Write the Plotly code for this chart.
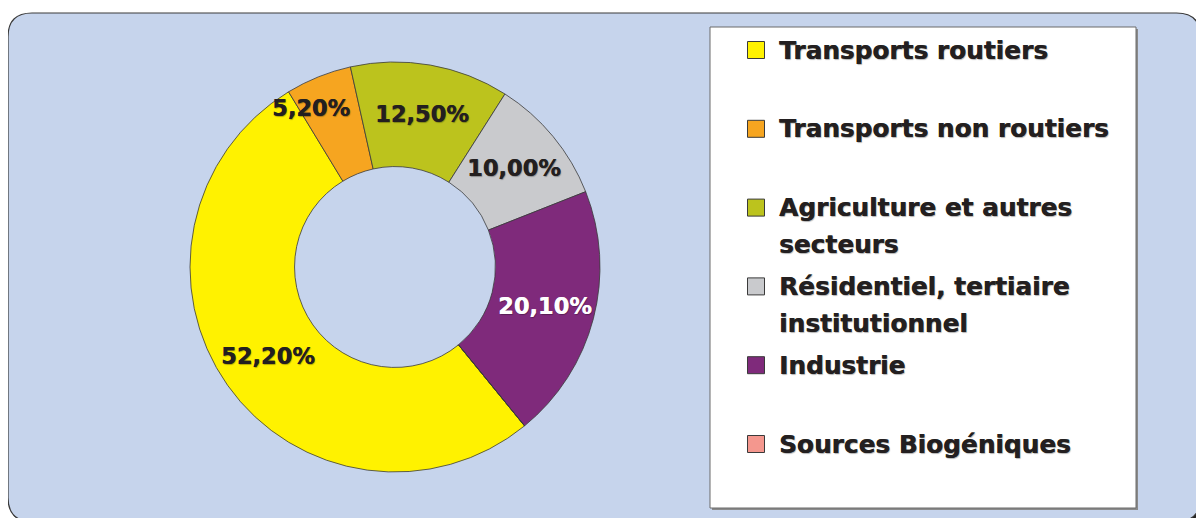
import math
import plotly.graph_objects as go

W, H = 1204, 518
OFF = 8                      # the page body adds an 8px margin
WF, HF = W - OFF, H - OFF    # figure size

# ---- data ----
categories = ["Transports routiers", "Transports non routiers",
              "Agriculture et autres\nsecteurs", "Résidentiel, tertiaire\ninstitutionnel",
              "Industrie", "Sources Biogéniques"]
values = [52.2, 5.2, 12.5, 10.0, 20.1, 0.0]
colors = ["#fff200", "#f6a520", "#bcc31d", "#c9cacd", "#7f2a7b", "#f4978e"]
label_colors = ["#231f20", "#231f20", "#231f20", "#231f20", "#ffffff", "#231f20"]

pct_text = [("%.2f" % v).replace(".", ",") + "%" if v > 0 else "" for v in values]

FONT = "DejaVu Sans"
SHADOW = "0.5px 0.4px 0 rgba(35,31,32,0.9), 1px 1px 1px rgba(0,0,0,0.3)"
SHADOW_W = "0.5px 0.4px 0 rgba(255,255,255,0.9), 1px 1px 1px rgba(0,0,0,0.3)"

def px(x):
    return (x - OFF) / WF

def py(y):
    return 1 - (y - OFF) / HF

# pie geometry (page pixels)
cx, cy, R = 395, 267, 205
ROT = 140.8
HOLE = 0.49

fig = go.Figure()
fig.add_trace(go.Pie(
    labels=[c.replace("\n", " ") for c in categories],
    values=values,
    sort=False,
    direction="clockwise",
    rotation=ROT,
    hole=HOLE,
    marker=dict(colors=colors, line=dict(color="#3a3a3a", width=0.8)),
    textinfo="none",
    domain=dict(x=[px(cx - R), px(cx + R)], y=[py(cy + R), py(cy - R)]),
    showlegend=False,
    hoverinfo="label+percent",
))

annotations = []
# percentage labels at slice mid-angles
total = sum(values)
cum = 0.0
label_r = 155
nudge = {1: (-6.0, 25)}   # small label of the thin slice sits a bit outward/left
for i, v in enumerate(values):
    mid = ROT + (cum + v / 2) / total * 360
    cum += v
    if v <= 0:
        continue
    da, dr = nudge.get(i, (0.0, 0))
    a = math.radians(mid + da)
    r = label_r + dr
    x = cx + r * math.sin(a)
    y = cy - r * math.cos(a)
    annotations.append(dict(xref="paper", yref="paper", x=px(x), y=py(y),
                            xanchor="center", yanchor="middle", showarrow=False,
                            text=pct_text[i],
                            font=dict(family=FONT, size=22.5, color=label_colors[i], weight="bold",
                                      shadow=SHADOW if label_colors[i] != "#ffffff" else SHADOW_W)))

shapes = []

def rounded_path(x0, y0, x1, y1, r):
    def P(x, y):
        return "%f,%f" % (px(x), py(y))
    d = "M " + P(x0 + r, y0)
    d += " L " + P(x1 - r, y0)
    d += " Q " + P(x1, y0) + " " + P(x1, y0 + r)
    d += " L " + P(x1, y1 - r)
    d += " Q " + P(x1, y1) + " " + P(x1 - r, y1)
    d += " L " + P(x0 + r, y1)
    d += " Q " + P(x0, y1) + " " + P(x0, y1 - r)
    d += " L " + P(x0, y0 + r)
    d += " Q " + P(x0, y0) + " " + P(x0 + r, y0)
    d += " Z"
    return d

# shadow of the background panel
shapes.append(dict(type="path", xref="paper", yref="paper", layer="below",
                   path=rounded_path(9.5, 14.5, 1202, 523, 24),
                   fillcolor="#222222", line=dict(color="#222222", width=1)))
# background panel
shapes.append(dict(type="path", xref="paper", yref="paper", layer="below",
                   path=rounded_path(8, 13, 1200.5, 521.5, 24),
                   fillcolor="#c6d4ec", line=dict(color="#3a3a3a", width=1.2)))
# legend box
shapes.append(dict(type="rect", xref="paper", yref="paper", layer="below",
                   x0=px(712), x1=px(1138), y0=py(510), y1=py(29),
                   fillcolor="#8a8a8a", line=dict(width=0)))
shapes.append(dict(type="rect", xref="paper", yref="paper", layer="below",
                   x0=px(710), x1=px(1136), y0=py(508), y1=py(27),
                   fillcolor="#ffffff", line=dict(color="#6a6a6a", width=1)))

row0, pitch, line_gap = 50, 78.8, 37
bx, bs, tx = 747.5, 17, 777
for i, (cat, col) in enumerate(zip(categories, colors)):
    yc = row0 + i * pitch
    shapes.append(dict(type="rect", xref="paper", yref="paper",
                       x0=px(bx), x1=px(bx + bs), y0=py(yc + bs / 2), y1=py(yc - bs / 2),
                       fillcolor=col, line=dict(color="#3a3a3a", width=1)))
    for j, line in enumerate(cat.split("\n")):
        annotations.append(dict(xref="paper", yref="paper", x=px(tx), y=py(yc + j * line_gap),
                                xanchor="left", yanchor="middle", showarrow=False,
                                text=line,
                                font=dict(family=FONT, size=24.8, color="#231f20", weight="bold",
                                          shadow=SHADOW)))

fig.update_layout(
    width=WF, height=HF,
    margin=dict(l=0, r=0, t=0, b=0),
    paper_bgcolor="#ffffff",
    plot_bgcolor="#ffffff",
    shapes=shapes,
    annotations=annotations,
)

fig.write_html("out.html")
